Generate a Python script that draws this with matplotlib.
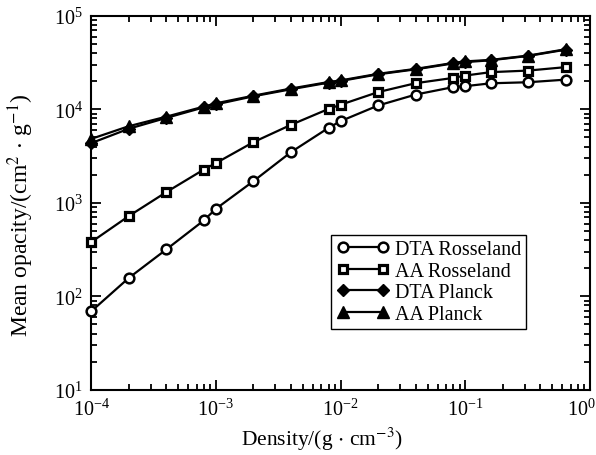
import matplotlib
matplotlib.use("Agg")
import matplotlib.pyplot as plt
import matplotlib.transforms as mtransforms
from matplotlib.ticker import LogLocator, NullFormatter

plt.rcParams['font.family'] = ['Liberation Serif', 'DejaVu Serif']
plt.rcParams['mathtext.fontset'] = 'stix'

# Densities (g/cm^3)
density = [1e-4, 2e-4, 4e-4, 8e-4, 1e-3, 2e-3, 4e-3, 8e-3, 1e-2, 2e-2,
           4e-2, 8e-2, 1e-1, 1.6e-1, 3.2e-1, 6.4e-1]

# Mean opacities (cm^2/g)
dta_rosseland = [69, 157, 317, 648, 863, 1706, 3485, 6340, 7480, 11000,
                 14400, 17300, 17700, 19000, 19500, 20800]
aa_rosseland = [380, 721, 1301, 2270, 2660, 4460, 6830, 10100, 11200, 15300,
                19050, 21700, 23000, 25000, 26000, 28300]
dta_planck = [4350, 6200, 8100, 10500, 11300, 13800, 16400, 19300, 20100, 23700,
              26800, 31000, 32000, 33500, 37300, 43500]
aa_planck = [4830, 6600, 8350, 10700, 11600, 14000, 16700, 19600, 20400, 24000,
             27100, 31400, 32600, 33800, 37600, 44000]

series_labels = ['DTA Rosseland', 'AA Rosseland', 'DTA Planck', 'AA Planck']

fig = plt.figure(figsize=(5.96, 4.56), dpi=100)
ax = fig.add_axes([0.153, 0.143, 0.837, 0.820])

lw = 1.6
ax.plot(density, dta_rosseland, '-o', color='black', lw=lw, ms=7,
        mfc='white', mec='black', mew=1.8, clip_on=False, zorder=3,
        label=series_labels[0])
ax.plot(density, aa_rosseland, '-s', color='black', lw=lw, ms=6.3,
        mfc='white', mec='black', mew=2.3, clip_on=False, zorder=3,
        label=series_labels[1])
ax.plot(density, dta_planck, '-D', color='black', lw=lw, ms=6.5,
        mfc='black', mec='black', clip_on=False, zorder=4,
        label=series_labels[2])
ax.plot(density, aa_planck, '-^', color='black', lw=lw, ms=8,
        mfc='black', mec='black', clip_on=False, zorder=4,
        label=series_labels[3])

ax.set_xscale('log')
ax.set_yscale('log')
ax.set_xlim(1e-4, 1)
ax.set_ylim(10, 1e5)

ax.xaxis.set_major_locator(LogLocator(base=10, numticks=10))
ax.xaxis.set_minor_locator(LogLocator(base=10, subs=range(2, 10), numticks=20))
ax.yaxis.set_major_locator(LogLocator(base=10, numticks=10))
ax.yaxis.set_minor_locator(LogLocator(base=10, subs=range(2, 10), numticks=20))
ax.xaxis.set_minor_formatter(NullFormatter())
ax.yaxis.set_minor_formatter(NullFormatter())

ax.tick_params(which='both', direction='in', top=True, right=True,
               width=1.3, labelsize=14.5, colors='black')
ax.tick_params(which='major', length=7, pad=6)
ax.tick_params(which='minor', length=4)
for s in ax.spines.values():
    s.set_linewidth(1.5)

# keep the rightmost x tick label inside the figure
fig.canvas.draw()
shift = mtransforms.ScaledTranslation(-9 / 100, 0, fig.dpi_scale_trans)
for lab in ax.get_xticklabels():
    if lab.get_position()[0] == 1.0:
        lab.set_transform(lab.get_transform() + shift)

ax.set_xlabel(r'Density/(g$\,\cdot\,$cm$^{-3}$)', fontsize=15.5)
ax.set_ylabel(r'Mean opacity/(cm$^{2}\,\cdot\,$g$^{-1}$)', fontsize=17)
ax.xaxis.set_label_coords(0.463, -0.094)
ax.yaxis.set_label_coords(-0.11, 0.47)

leg = ax.legend(loc='lower right', bbox_to_anchor=(0.872, 0.163),
                fontsize=14.5, numpoints=2, handlelength=2.6,
                handletextpad=0.3, labelspacing=0.12, borderpad=0.25,
                borderaxespad=0, fancybox=False, edgecolor='black',
                framealpha=1)
leg.get_frame().set_linewidth(1.0)

fig.savefig('out.png', dpi=100)
